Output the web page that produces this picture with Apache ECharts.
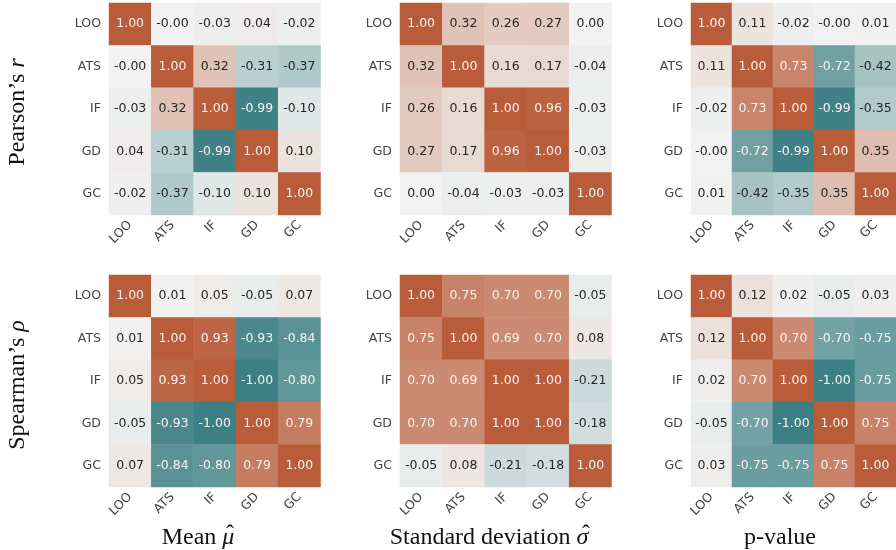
<!DOCTYPE html>
<html>
<head>
<meta charset="utf-8">
<script src="https://cdn.jsdelivr.net/npm/echarts@6/dist/echarts.min.js"></script>
<style>
  html, body { margin: 0; padding: 0; background: #fff; }
  #main { width: 896px; height: 550px; }
</style>
</head>
<body>
<div id="main"></div>
<script>
// method names on both axes
const labels = ['LOO', 'ATS', 'IF', 'GD', 'GC'];

// Pearson's r  (rows/cols follow labels)
const pearsonMean = [
  [1.00, -0.001, -0.03, 0.04, -0.02],
  [-0.001, 1.00, 0.32, -0.31, -0.37],
  [-0.03, 0.32, 1.00, -0.99, -0.10],
  [0.04, -0.31, -0.99, 1.00, 0.10],
  [-0.02, -0.37, -0.10, 0.10, 1.00]
];
const pearsonStd = [
  [1.00, 0.32, 0.26, 0.27, 0.00],
  [0.32, 1.00, 0.16, 0.17, -0.04],
  [0.26, 0.16, 1.00, 0.96, -0.03],
  [0.27, 0.17, 0.96, 1.00, -0.03],
  [0.00, -0.04, -0.03, -0.03, 1.00]
];
const pearsonP = [
  [1.00, 0.11, -0.02, -0.001, 0.01],
  [0.11, 1.00, 0.73, -0.72, -0.42],
  [-0.02, 0.73, 1.00, -0.99, -0.35],
  [-0.001, -0.72, -0.99, 1.00, 0.35],
  [0.01, -0.42, -0.35, 0.35, 1.00]
];

// Spearman's rho
const spearmanMean = [
  [1.00, 0.01, 0.05, -0.05, 0.07],
  [0.01, 1.00, 0.93, -0.93, -0.84],
  [0.05, 0.93, 1.00, -1.00, -0.80],
  [-0.05, -0.93, -1.00, 1.00, 0.79],
  [0.07, -0.84, -0.80, 0.79, 1.00]
];
const spearmanStd = [
  [1.00, 0.75, 0.70, 0.70, -0.05],
  [0.75, 1.00, 0.69, 0.70, 0.08],
  [0.70, 0.69, 1.00, 1.00, -0.21],
  [0.70, 0.70, 1.00, 1.00, -0.18],
  [-0.05, 0.08, -0.21, -0.18, 1.00]
];
const spearmanP = [
  [1.00, 0.12, 0.02, -0.05, 0.03],
  [0.12, 1.00, 0.70, -0.70, -0.75],
  [0.02, 0.70, 1.00, -1.00, -0.75],
  [-0.05, -0.70, -1.00, 1.00, 0.75],
  [0.03, -0.75, -0.75, 0.75, 1.00]
];

const matrices = [
  [pearsonMean, pearsonStd, pearsonP],
  [spearmanMean, spearmanStd, spearmanP]
];

const lefts = [109, 400, 691];
const tops = [3, 275];
const tickFont = 'DejaVu Sans';

let grids = [], xAxes = [], yAxes = [], series = [];
let idx = 0;
for (let r = 0; r < 2; r++) {
  for (let c = 0; c < 3; c++) {
    grids.push({left: lefts[c], top: tops[r], width: 211.5, height: 212});
    xAxes.push({
      type: 'category', data: labels, gridIndex: idx,
      axisLine: {show: false},
      axisTick: {alignWithLabel: true, length: 3.5, lineStyle: {color: '#666'}},
      axisLabel: {rotate: 45, margin: 8, fontSize: 12.5, color: '#444', fontFamily: tickFont},
      splitLine: {show: false}
    });
    yAxes.push({
      type: 'category', data: labels, gridIndex: idx, inverse: true,
      axisLine: {show: false},
      axisTick: {alignWithLabel: true, length: 3.5, lineStyle: {color: '#666'}},
      axisLabel: {margin: 8, fontSize: 12.5, color: '#444', fontFamily: tickFont},
      splitLine: {show: false}
    });
    let m = matrices[r][c];
    let data = [];
    for (let i = 0; i < 5; i++) {
      for (let j = 0; j < 5; j++) {
        let v = m[i][j];
        data.push({
          value: [j, i, v],
          label: {color: Math.abs(v) > 0.5 ? '#fbf3f0' : '#262626'}
        });
      }
    }
    series.push({
      type: 'heatmap', xAxisIndex: idx, yAxisIndex: idx,
      data: data,
      itemStyle: {borderWidth: 0},
      emphasis: {disabled: true},
      label: {
        show: true, fontSize: 12.5, fontFamily: tickFont,
        formatter: function (p) { return p.value[2].toFixed(2); }
      }
    });
    idx++;
  }
}

const titleRich = {
  a: {fontFamily: 'Liberation Serif', fontSize: 24, fill: '#111'},
  b: {fontFamily: 'Liberation Serif', fontSize: 24, fontStyle: 'italic', fill: '#111'}
};
function label(x, y, text, rot) {
  return {
    type: 'text', x: x, y: y, rotation: rot || 0,
    style: {text: text, rich: titleRich, align: 'center', verticalAlign: 'middle',
            fontFamily: 'Liberation Serif', fontSize: 24, fill: '#111'}
  };
}
// hat accent placed over the italic symbol
function hat(x, y) {
  return {
    type: 'text', x: x, y: y,
    style: {text: '\u02C6', align: 'center', verticalAlign: 'middle',
            fontFamily: 'Liberation Serif', fontSize: 24, fill: '#111'}
  };
}

let myChart = echarts.init(document.getElementById('main'), null, {renderer: 'canvas'});
myChart.setOption({
  animation: false,
  backgroundColor: '#fff',
  grid: grids,
  xAxis: xAxes,
  yAxis: yAxes,
  visualMap: {
    type: 'continuous', show: false, min: -1, max: 1,
    seriesIndex: [0, 1, 2, 3, 4, 5],
    inRange: {color: ['#3d8083', '#f2f2f2', '#b95c39']}
  },
  series: series,
  graphic: [
    label(18, 112, '{a|Pearson’s }{b|r}', Math.PI / 2),
    label(18, 385, '{a|Spearman’s }{b|ρ}', Math.PI / 2),
    label(198, 538, '{a|Mean }{b|μ}'),
    hat(230, 535),
    label(489, 538, '{a|Standard deviation }{b|σ}'),
    hat(586, 535),
    label(780, 538, '{a|p-value}')
  ]
});
</script>
</body>
</html>
